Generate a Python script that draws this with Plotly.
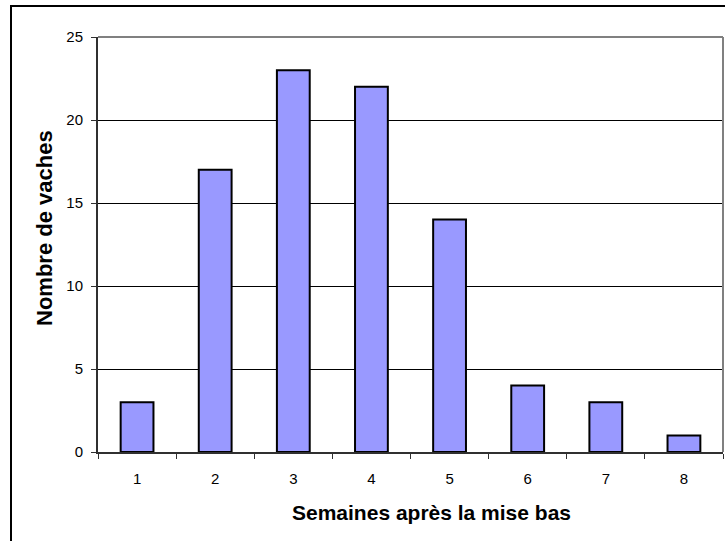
import plotly.graph_objects as go

semaines = ["1", "2", "3", "4", "5", "6", "7", "8"]
vaches = [3, 17, 23, 22, 14, 4, 3, 1]
y_ticks = [0, 5, 10, 15, 20, 25]

fig = go.Figure()

fig.add_trace(go.Bar(
    x=semaines,
    y=vaches,
    width=0.42,
    marker=dict(color='#9999FF', line=dict(color='black', width=2))
))

# outer chart border
fig.add_shape(
    type='rect', xref='paper', yref='paper',
    x0=-0.1392, x1=1.02, y0=-0.25, y1=1.0747,
    line=dict(color='black', width=2), layer='below'
)
# grey plot-area border, top and right
fig.add_shape(type='line', xref='paper', yref='paper', x0=0, x1=1, y0=1, y1=1,
              line=dict(color='#808080', width=2))
fig.add_shape(type='line', xref='paper', yref='paper', x0=1, x1=1, y0=0, y1=1,
              line=dict(color='#808080', width=2))

fig.add_annotation(
    text='<b>Semaines après la mise bas</b>', xref='paper', yref='paper',
    x=0.534, y=-0.1446, xanchor='center', yanchor='middle',
    showarrow=False, font=dict(size=21)
)
fig.add_annotation(
    text='<b>Nombre de vaches</b>', xref='paper', yref='paper',
    x=-0.0848, y=0.5398, xanchor='center', yanchor='middle',
    textangle=-90, showarrow=False, font=dict(size=22)
)

fig.update_layout(
    width=725, height=541,
    margin=dict(l=98, r=2, t=37, b=89),
    paper_bgcolor='white',
    plot_bgcolor='white',
    font=dict(family='Liberation Sans, Arial', color='black', size=15),
    showlegend=False,
    hovermode=False,
)

fig.update_xaxes(
    type='category', automargin=False,
    showline=True, linecolor='#303030', linewidth=2,
    ticks='outside', tickson='boundaries', ticklen=5, tickcolor='#303030',
    ticklabelstandoff=12,
    showgrid=False,
)

fig.update_yaxes(
    range=[0, 25], tickvals=y_ticks, automargin=False,
    showline=True, linecolor='#303030', linewidth=2,
    ticks='outside', ticklen=5, tickcolor='#303030',
    ticklabelstandoff=5,
    showgrid=True, gridcolor='black', gridwidth=1,
    zeroline=False,
)

fig.write_html("out.html", config={'displayModeBar': False},
               post_script="document.body.style.margin='0';")
